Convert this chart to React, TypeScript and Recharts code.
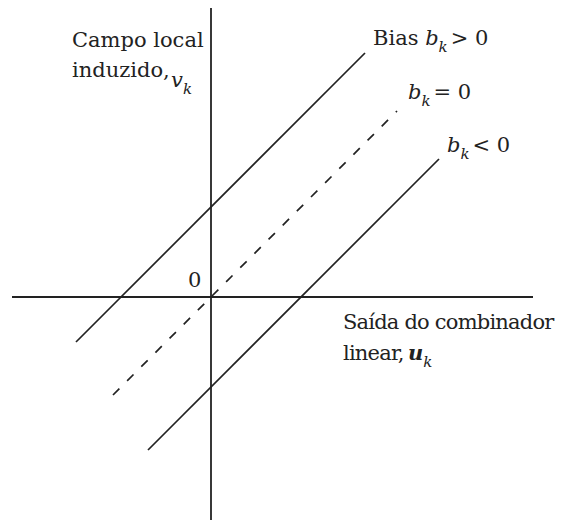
import React from 'react';
import {
  LineChart,
  Line,
  XAxis,
  YAxis,
  ReferenceLine,
  Customized,
} from 'recharts';

// induced local field v = u + b, drawn for three bias values
const biasPositive = [
  { u: -13.5, v: -4.5 },
  { u: 15.4, v: 24.4 },
];
const biasZero = [
  { u: -9.8, v: -9.8 },
  { u: 18.6, v: 18.6 },
];
const biasNegative = [
  { u: -6.3, v: -15.3 },
  { u: 22.8, v: 13.8 },
];

const uDomain = [-19.9, 32.2];
const vDomain = [-23.1, 29.2];

const ink = '#222';
const textStyle: React.CSSProperties = {
  fontFamily: "'DejaVu Serif', 'Liberation Serif', serif",
  fontSize: 21,
  fill: ink,
};
const subSize = 15;

const Sub = ({ base, bold }: { base: string; bold?: boolean }) => (
  <>
    <tspan fontStyle="italic" fontWeight={bold ? 'bold' : 'normal'}>
      {base}
    </tspan>
    <tspan fontStyle="italic" fontSize={subSize} dy={7}>
      k
    </tspan>
  </>
);

const T = ({
  x,
  y,
  tight,
  children,
}: {
  x: number;
  y: number;
  tight?: number;
  children: React.ReactNode;
}) => (
  <text x={x} y={y} style={{ ...textStyle, letterSpacing: tight ?? 0 }}>
    {children}
  </text>
);

const Labels = () => (
  <g>
    <T x={72} y={47}>Campo local</T>
    <T x={72} y={77}>induzido,</T>
    <T x={171} y={87}>
      <Sub base="v" />
    </T>
    <T x={373} y={45}>
      Bias <Sub base="b" />
      <tspan dy={-7} dx={3}>&gt; 0</tspan>
    </T>
    <T x={408} y={99}>
      <Sub base="b" />
      <tspan dy={-7} dx={3}>= 0</tspan>
    </T>
    <T x={447} y={152}>
      <Sub base="b" />
      <tspan dy={-7} dx={3}>&lt; 0</tspan>
    </T>
    <T x={188} y={287}>0</T>
    <T x={343} y={329} tight={-0.8}>
      Saída do combinador
    </T>
    <T x={343} y={360} tight={-0.8}>
      linear,
    </T>
    <T x={408} y={360}>
      <Sub base="u" bold />
    </T>
  </g>
);

export default function App() {
  return (
    <div style={{ margin: -8, background: '#fff' }}>
      <LineChart
        width={564}
        height={528}
        margin={{ top: 5, right: 31, bottom: 0, left: 12 }}
      >
        <XAxis
          type="number"
          dataKey="u"
          domain={uDomain}
          allowDataOverflow
          hide
        />
        <YAxis
          type="number"
          dataKey="v"
          domain={vDomain}
          allowDataOverflow
          hide
        />
        <ReferenceLine y={0} stroke={ink} strokeWidth={1.8} />
        <ReferenceLine x={0} stroke={ink} strokeWidth={1.8} />
        <Line
          data={biasPositive}
          dataKey="v"
          type="linear"
          stroke={ink}
          strokeWidth={1.7}
          dot={false}
          isAnimationActive={false}
        />
        <Line
          data={biasZero}
          dataKey="v"
          type="linear"
          stroke={ink}
          strokeWidth={1.7}
          strokeDasharray="9 11"
          dot={false}
          isAnimationActive={false}
        />
        <Line
          data={biasNegative}
          dataKey="v"
          type="linear"
          stroke={ink}
          strokeWidth={1.7}
          dot={false}
          isAnimationActive={false}
        />
        <Customized component={Labels} />
      </LineChart>
    </div>
  );
}
